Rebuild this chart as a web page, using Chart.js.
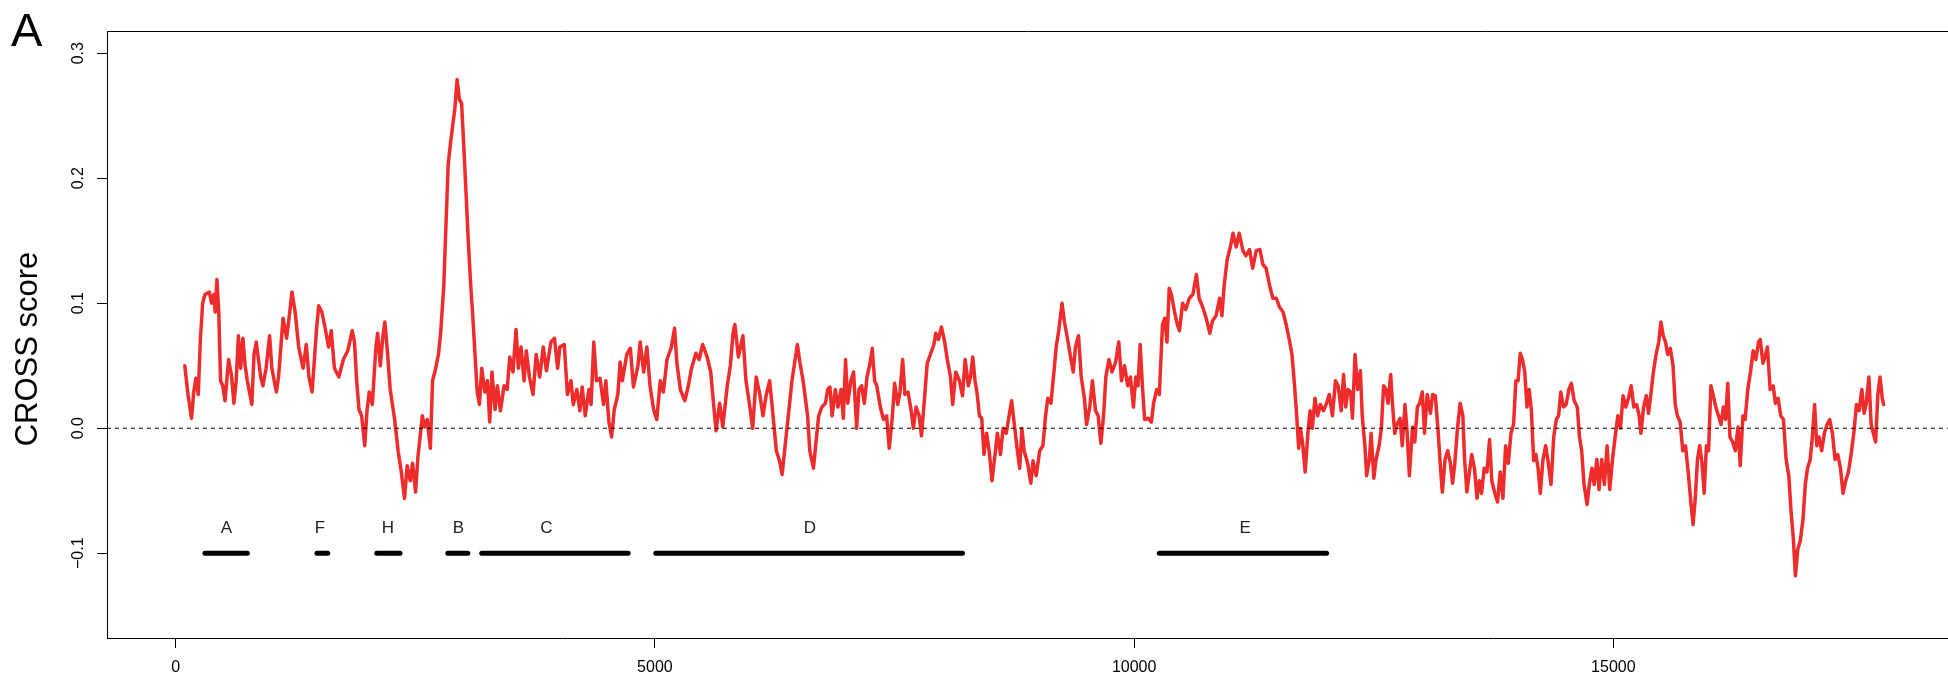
<!DOCTYPE html>
<html>
<head>
<meta charset="utf-8">
<title>CROSS score</title>
<script src="https://cdn.jsdelivr.net/npm/chart.js@4.4.0/dist/chart.umd.min.js"></script>
<style>
  html, body { margin: 0; padding: 0; background: #fff; overflow: hidden; }
  #wrap { position: relative; width: 1948px; height: 679px; }
</style>
</head>
<body>
<div id="wrap"><canvas id="crossChart"></canvas></div>
<script>
// sequence position (x) and CROSS score (y)
const positions = [
  95, 128, 165, 188, 211, 235, 258, 281, 305, 351, 374, 398, 412, 430, 449, 468, 491, 514, 552, 584,
  607, 631, 654, 677, 701, 724, 747, 794, 817, 840, 887, 910, 943, 980, 1003, 1050, 1073, 1120, 1157, 1190,
  1213, 1246, 1283, 1329, 1362, 1390, 1423, 1469, 1492, 1525, 1562, 1595, 1623, 1656, 1702, 1749, 1795, 1842, 1865, 1888,
  1912, 1940, 1972, 1996, 2019, 2051, 2089, 2107, 2135, 2159, 2182, 2205, 2238, 2284, 2322, 2354, 2387, 2415, 2447, 2471,
  2503, 2527, 2554, 2573, 2596, 2624, 2657, 2680, 2713, 2741, 2764, 2797, 2820, 2843, 2867, 2890, 2913, 2936, 2960, 2983,
  3006, 3030, 3053, 3076, 3099, 3123, 3146, 3169, 3193, 3225, 3253, 3276, 3300, 3332, 3356, 3388, 3426, 3458, 3486, 3519,
  3551, 3575, 3603, 3635, 3658, 3691, 3728, 3761, 3798, 3835, 3868, 3915, 3952, 3985, 4008, 4054, 4087, 4124, 4148, 4185,
  4217, 4241, 4273, 4311, 4334, 4362, 4390, 4427, 4464, 4488, 4520, 4548, 4576, 4613, 4637, 4660, 4706, 4744, 4776, 4823,
  4846, 4883, 4916, 4949, 4986, 5019, 5056, 5088, 5126, 5172, 5205, 5228, 5265, 5312, 5349, 5382, 5428, 5461, 5498, 5545,
  5582, 5615, 5638, 5675, 5708, 5755, 5787, 5815, 5834, 5871, 5918, 5950, 5987, 6020, 6057, 6095, 6127, 6160, 6197, 6220,
  6267, 6300, 6327, 6430, 6463, 6486, 6514, 6546, 6570, 6593, 6616, 6654, 6686, 6709, 6742, 6779, 6803, 6826, 6849, 6882,
  6910, 6942, 6966, 6989, 7012, 7045, 7073, 7105, 7129, 7157, 7185, 7213, 7245, 7268, 7292, 7315, 7352, 7385, 7417, 7445,
  7478, 7501, 7534, 7557, 7585, 7608, 7641, 7674, 7697, 7725, 7757, 7781, 7813, 7841, 7874, 7911, 7930, 7958, 7990, 8023,
  8051, 8084, 8107, 8139, 8177, 8209, 8237, 8270, 8293, 8316, 8340, 8363, 8386, 8410, 8433, 8461, 8489, 8517, 8549, 8573,
  8605, 8633, 8666, 8689, 8722, 8750, 8782, 8806, 8829, 8852, 8889, 8922, 8945, 8978, 9015, 9048, 9076, 9099, 9132, 9155,
  9187, 9215, 9248, 9271, 9304, 9341, 9364, 9388, 9420, 9448, 9481, 9504, 9537, 9565, 9597, 9625, 9653, 9681, 9705, 9737,
  9770, 9807, 9840, 9868, 9900, 9933, 9961, 9993, 10017, 10040, 10063, 10086, 10110, 10147, 10180, 10203, 10236, 10263, 10296, 10319,
  10343, 10366, 10389, 10422, 10450, 10473, 10506, 10538, 10576, 10613, 10650, 10678, 10715, 10752, 10790, 10818, 10855, 10892, 10916, 10939,
  10971, 11004, 11032, 11065, 11097, 11135, 11167, 11204, 11237, 11274, 11312, 11344, 11377, 11414, 11447, 11484, 11516, 11554, 11586, 11624,
  11647, 11670, 11693, 11717, 11734, 11757, 11785, 11813, 11836, 11859, 11887, 11915, 11943, 11976, 12008, 12036, 12069, 12101, 12129, 12161,
  12185, 12208, 12231, 12259, 12278, 12305, 12333, 12361, 12380, 12408, 12426, 12454, 12473, 12501, 12524, 12556, 12580, 12603, 12626, 12649,
  12677, 12696, 12719, 12742, 12775, 12798, 12826, 12849, 12872, 12905, 12928, 12956, 12979, 13007, 13030, 13058, 13091, 13114, 13142, 13170,
  13197, 13216, 13244, 13272, 13300, 13323, 13346, 13374, 13402, 13430, 13448, 13472, 13495, 13523, 13551, 13578, 13602, 13625, 13653, 13681,
  13709, 13732, 13764, 13792, 13820, 13848, 13876, 13904, 13932, 13959, 13983, 14006, 14029, 14052, 14076, 14099, 14122, 14145, 14169, 14192,
  14215, 14238, 14266, 14294, 14322, 14350, 14378, 14405, 14429, 14452, 14480, 14508, 14536, 14563, 14591, 14624, 14647, 14670, 14694, 14726,
  14749, 14777, 14800, 14828, 14851, 14879, 14907, 14935, 14963, 14991, 15019, 15047, 15074, 15102, 15130, 15158, 15186, 15214, 15242, 15270,
  15288, 15316, 15344, 15367, 15390, 15418, 15446, 15474, 15497, 15520, 15544, 15567, 15595, 15623, 15646, 15669, 15697, 15725, 15753, 15781,
  15809, 15832, 15855, 15878, 15901, 15925, 15948, 15971, 15994, 16018, 16041, 16069, 16097, 16124, 16148, 16171, 16194, 16217, 16245, 16273,
  16301, 16324, 16352, 16375, 16403, 16431, 16459, 16487, 16515, 16533, 16561, 16589, 16608, 16636, 16668, 16691, 16719, 16747, 16775, 16803,
  16831, 16854, 16877, 16900, 16924, 16951, 16979, 17003, 17026, 17054, 17077, 17100, 17123, 17146, 17174, 17202, 17230, 17258, 17286, 17314,
  17342, 17370, 17397, 17425, 17453, 17481, 17509, 17537, 17565, 17593, 17616, 17639, 17667, 17690, 17713, 17737, 17760, 17783, 17806, 17820
];
const scores = [
  0.050, 0.027, 0.008, 0.029, 0.040, 0.027, 0.072, 0.100, 0.107, 0.109, 0.100, 0.107, 0.093, 0.119, 0.093, 0.038, 0.034, 0.022, 0.055, 0.041,
  0.020, 0.038, 0.074, 0.048, 0.072, 0.050, 0.038, 0.019, 0.059, 0.069, 0.041, 0.034, 0.048, 0.074, 0.048, 0.029, 0.041, 0.088, 0.072, 0.093,
  0.109, 0.093, 0.065, 0.048, 0.067, 0.041, 0.029, 0.079, 0.098, 0.093, 0.079, 0.065, 0.078, 0.048, 0.041, 0.055, 0.062, 0.078, 0.069, 0.038,
  0.015, 0.010, -0.014, 0.014, 0.029, 0.019, 0.065, 0.076, 0.050, 0.072, 0.085, 0.065, 0.031, 0.007, -0.019, -0.035, -0.056, -0.030, -0.042, -0.028,
  -0.051, -0.023, -0.004, 0.010, 0.001, 0.007, -0.016, 0.038, 0.048, 0.059, 0.076, 0.114, 0.163, 0.211, 0.228, 0.242, 0.256, 0.279, 0.263, 0.260,
  0.225, 0.187, 0.149, 0.117, 0.090, 0.059, 0.029, 0.019, 0.048, 0.029, 0.038, 0.005, 0.045, 0.015, 0.034, 0.014, 0.034, 0.031, 0.057, 0.045,
  0.079, 0.048, 0.065, 0.038, 0.062, 0.041, 0.027, 0.059, 0.041, 0.065, 0.046, 0.069, 0.072, 0.048, 0.065, 0.067, 0.027, 0.038, 0.019, 0.031,
  0.014, 0.033, 0.010, 0.031, 0.019, 0.069, 0.038, 0.040, 0.019, 0.038, 0.005, -0.007, 0.015, 0.027, 0.053, 0.038, 0.059, 0.064, 0.033, 0.050,
  0.069, 0.045, 0.065, 0.034, 0.015, 0.007, 0.038, 0.029, 0.055, 0.065, 0.080, 0.053, 0.031, 0.022, 0.034, 0.048, 0.060, 0.055, 0.067, 0.057,
  0.045, 0.017, -0.002, 0.020, 0.001, 0.034, 0.050, 0.076, 0.083, 0.057, 0.074, 0.038, 0.019, 0.000, 0.041, 0.027, 0.010, 0.026, 0.038, 0.020,
  -0.018, -0.026, -0.037, 0.038, 0.055, 0.067, 0.052, 0.038, 0.024, 0.010, -0.018, -0.032, -0.007, 0.010, 0.017, 0.020, 0.031, 0.033, 0.010, 0.031,
  0.017, 0.031, 0.008, 0.055, 0.020, 0.038, 0.045, 0.000, 0.031, 0.034, 0.020, 0.041, 0.052, 0.064, 0.038, 0.034, 0.017, 0.007, 0.010, -0.016,
  0.010, 0.036, 0.019, 0.029, 0.055, 0.027, 0.029, 0.014, 0.000, 0.017, 0.010, -0.006, 0.024, 0.052, 0.059, 0.067, 0.076, 0.071, 0.081, 0.069,
  0.055, 0.041, 0.019, 0.045, 0.038, 0.026, 0.055, 0.034, 0.041, 0.057, 0.038, 0.027, 0.010, 0.008, -0.021, -0.004, -0.019, -0.042, -0.021, -0.004,
  -0.021, 0.000, -0.004, 0.007, 0.022, 0.003, -0.018, -0.032, 0.000, -0.018, -0.028, -0.044, -0.026, -0.038, -0.018, -0.014, 0.010, 0.024, 0.020, 0.038,
  0.065, 0.079, 0.100, 0.086, 0.072, 0.055, 0.045, 0.065, 0.074, 0.041, 0.024, 0.003, 0.017, 0.038, 0.014, 0.010, -0.012, 0.010, 0.041, 0.055,
  0.045, 0.053, 0.069, 0.038, 0.050, 0.034, 0.041, 0.017, 0.041, 0.034, 0.067, 0.034, 0.007, 0.008, 0.005, 0.020, 0.031, 0.027, 0.083, 0.088,
  0.069, 0.112, 0.107, 0.093, 0.083, 0.078, 0.100, 0.095, 0.104, 0.107, 0.123, 0.104, 0.097, 0.088, 0.076, 0.086, 0.090, 0.104, 0.090, 0.114,
  0.135, 0.145, 0.156, 0.145, 0.156, 0.142, 0.138, 0.143, 0.128, 0.142, 0.143, 0.131, 0.128, 0.114, 0.104, 0.104, 0.097, 0.093, 0.083, 0.069,
  0.059, 0.038, 0.014, -0.016, 0.000, -0.011, -0.035, -0.004, 0.014, 0.000, 0.024, 0.010, 0.019, 0.014, 0.020, 0.027, 0.010, 0.038, 0.034, 0.014,
  0.043, 0.017, 0.031, 0.029, 0.008, 0.059, 0.031, 0.046, 0.010, -0.014, -0.038, -0.025, -0.004, -0.040, -0.025, -0.014, 0.000, 0.034, 0.031, 0.020,
  0.043, 0.019, -0.004, 0.003, 0.008, -0.014, 0.019, -0.004, -0.038, 0.001, -0.011, 0.017, 0.020, 0.029, -0.004, 0.027, 0.012, 0.027, 0.026, 0.000,
  -0.032, -0.051, -0.025, -0.018, -0.028, -0.044, -0.028, 0.000, 0.020, 0.010, -0.025, -0.051, -0.037, -0.021, -0.032, -0.056, -0.042, -0.052, -0.032, -0.035,
  -0.009, -0.042, -0.052, -0.059, -0.035, -0.056, -0.014, -0.028, -0.004, 0.003, 0.038, 0.038, 0.060, 0.055, 0.045, 0.017, 0.031, 0.014, -0.026, -0.021,
  -0.032, -0.052, -0.025, -0.014, -0.028, -0.045, -0.007, 0.007, 0.010, 0.029, 0.017, 0.019, 0.031, 0.036, 0.022, 0.017, -0.007, -0.018, -0.045, -0.061,
  -0.045, -0.032, -0.045, -0.025, -0.049, -0.025, -0.045, -0.014, -0.049, -0.025, -0.007, 0.010, 0.000, 0.026, 0.017, 0.024, 0.034, 0.017, 0.019, 0.010,
  -0.004, 0.017, 0.026, 0.012, 0.026, 0.045, 0.059, 0.069, 0.085, 0.074, 0.069, 0.059, 0.064, 0.050, 0.019, 0.010, 0.005, -0.018, -0.014, -0.035,
  -0.059, -0.077, -0.056, -0.025, -0.014, -0.028, -0.052, -0.014, -0.018, 0.034, 0.027, 0.017, 0.010, 0.003, 0.017, 0.007, 0.036, -0.007, -0.011, -0.018,
  0.001, -0.030, 0.010, 0.007, 0.031, 0.045, 0.062, 0.055, 0.069, 0.071, 0.052, 0.059, 0.065, 0.031, 0.034, 0.020, 0.024, 0.010, 0.007, -0.025,
  -0.038, -0.066, -0.087, -0.118, -0.097, -0.090, -0.073, -0.045, -0.032, -0.025, -0.007, 0.019, -0.014, -0.007, -0.018, -0.004, 0.003, 0.007, -0.004, -0.025,
  -0.021, -0.032, -0.052, -0.042, -0.035, -0.021, -0.004, 0.019, 0.014, 0.031, 0.012, 0.020, 0.041, 0.003, -0.004, -0.011, 0.027, 0.041, 0.024, 0.019
];

// annotated regions drawn as black bars under the curve
const regionNames = ["A", "F", "H", "B", "C", "D", "E"];
const regionStart = [305, 1474, 2098, 2839, 3193, 5009, 10263];
const regionEnd = [747, 1586, 2340, 3048, 4720, 8209, 12008];
const regionLabelX = [528, 1506, 2214, 2950, 3868, 6616, 11158];
const REGION_Y = -0.1;
const REGION_LABEL_Y = -0.079;

// axes
const xTicks = [0, 5000, 10000, 15000];
const yTicks = [-0.1, 0.0, 0.1, 0.2, 0.3];
const X_MIN = -717, X_MAX = 18492;
const Y_MIN = -0.1678, Y_MAX = 0.3178;

const FONT = "'Liberation Sans', Arial, Helvetica, sans-serif";
Chart.defaults.font.family = FONT;
Chart.defaults.color = "#000";

// build datasets
const scoreData = positions.map((p, i) => ({ x: p, y: scores[i] }));

const datasets = [
  {
    label: "zero",
    data: [{ x: X_MIN, y: 0 }, { x: X_MAX, y: 0 }],
    borderColor: "#000",
    borderWidth: 1,
    borderDash: [4, 4],
    pointRadius: 0,
    order: 0,
  },
  {
    label: "CROSS score",
    data: scoreData,
    borderColor: "#EE2C2C",
    borderWidth: 3.5,
    borderJoinStyle: "round",
    borderCapStyle: "round",
    pointRadius: 0,
    tension: 0,
    order: 1,
  },
];

regionNames.forEach((name, i) => {
  datasets.push({
    label: "region " + name,
    data: [{ x: regionStart[i], y: REGION_Y }, { x: regionEnd[i], y: REGION_Y }],
    borderColor: "#000",
    borderWidth: 5,
    borderCapStyle: "round",
    pointRadius: 0,
    order: 2,
  });
});

// top edge of the plot box (the right edge is outside the picture)
const frameTop = {
  id: "frameTop",
  afterDraw(chart) {
    const { ctx, chartArea } = chart;
    ctx.save();
    ctx.strokeStyle = "#000";
    ctx.lineWidth = 1;
    ctx.beginPath();
    ctx.moveTo(chartArea.left, Math.round(chartArea.top) + 0.5);
    ctx.lineTo(chartArea.right, Math.round(chartArea.top) + 0.5);
    ctx.stroke();
    ctx.restore();
  },
};

// extra texts: panel letter, y title, region labels
const textPlugin = {
  id: "texts",
  afterDraw(chart) {
    const ctx = chart.ctx;
    const x = chart.scales.x;
    const y = chart.scales.y;
    ctx.save();
    ctx.fillStyle = "#000";

    ctx.font = "47px " + FONT;
    ctx.textAlign = "left";
    ctx.textBaseline = "alphabetic";
    ctx.fillText("A", 11, 46);

    ctx.save();
    ctx.translate(28, 349);
    ctx.rotate(-Math.PI / 2);
    ctx.font = "31px " + FONT;
    ctx.textAlign = "center";
    ctx.textBaseline = "middle";
    ctx.fillText("CROSS score", 0, 0);
    ctx.restore();

    ctx.font = "17px " + FONT;
    ctx.fillStyle = "#222";
    ctx.textAlign = "center";
    ctx.textBaseline = "alphabetic";
    const ly = y.getPixelForValue(REGION_LABEL_Y) + 6;
    regionNames.forEach((name, i) => {
      ctx.fillText(name, x.getPixelForValue(regionLabelX[i]), ly);
    });
    ctx.restore();
  },
};

new Chart(document.getElementById("crossChart"), {
  type: "line",
  data: { datasets: datasets },
  options: {
    responsive: true,
    maintainAspectRatio: false,
    animation: false,
    layout: { padding: { top: 31, left: 0, right: 0, bottom: 0 } },
    plugins: {
      legend: { display: false },
      tooltip: { enabled: false },
    },
    scales: {
      x: {
        type: "linear",
        position: "bottom",
        min: X_MIN,
        max: X_MAX,
        afterBuildTicks: (s) => { s.ticks = xTicks.map((v) => ({ value: v })); },
        afterFit: (s) => { s.height = 41; },
        grid: { drawOnChartArea: false, drawTicks: true, tickLength: 10, color: "#000", lineWidth: 1 },
        border: { display: true, color: "#000", width: 1 },
        ticks: {
          autoSkip: false,
          maxRotation: 0,
          padding: 10,
          color: "#000",
          font: { size: 16 },
          callback: (v) => String(v),
        },
      },
      y: {
        type: "linear",
        position: "left",
        min: Y_MIN,
        max: Y_MAX,
        afterBuildTicks: (s) => { s.ticks = yTicks.map((v) => ({ value: v })); },
        afterFit: (s) => { s.width = 107; },
        grid: { drawOnChartArea: false, drawTicks: true, tickLength: 10, color: "#000", lineWidth: 1 },
        border: { display: true, color: "#000", width: 1 },
        ticks: {
          minRotation: 90,
          maxRotation: 90,
          crossAlign: "center",
          padding: 3,
          color: "#000",
          font: { size: 16 },
          callback: (v) => (v < 0 ? "\u2212" + Math.abs(v).toFixed(1) : v.toFixed(1)),
        },
      },
    },
  },
  plugins: [frameTop, textPlugin],
});
</script>
</body>
</html>
